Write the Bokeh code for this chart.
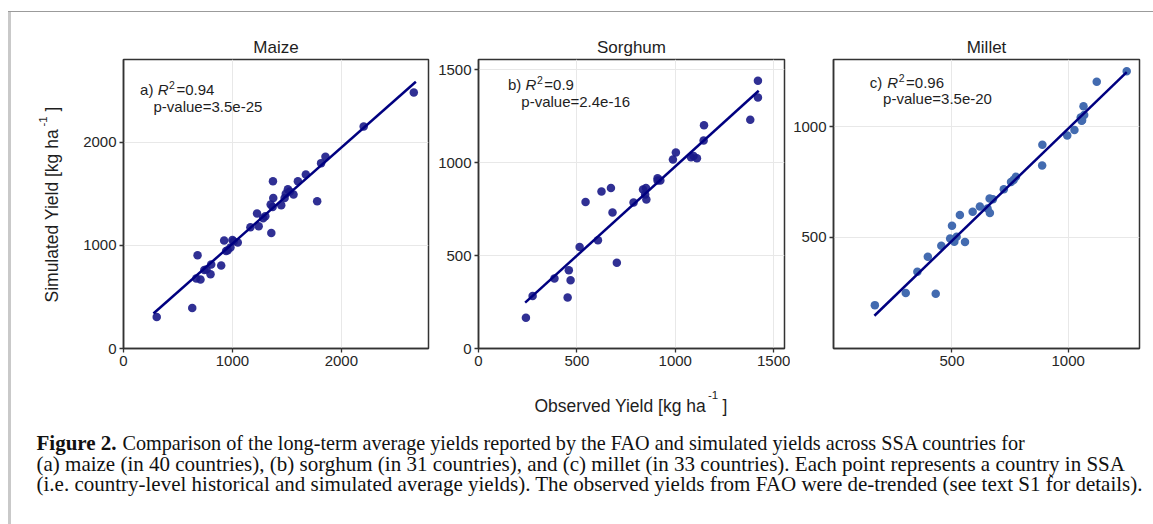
import math
from bokeh.plotting import figure
from bokeh.layouts import row, column
from bokeh.models import Range1d, FixedTicker, Label
from bokeh.embed import file_html
from bokeh.resources import INLINE

# ---------------- data ----------------
maize_obs = [305, 631, 680, 668, 707, 762, 805, 799, 897, 924, 957, 982, 1000, 1049,
             1165, 1241, 1226, 1302, 1357, 1351, 1369, 1375, 1372, 1448, 1479, 1509,
             1561, 1601, 1674, 1778, 1814, 1854, 2205, 2665, 1490, 1012, 742, 1282, 942, 1528]
maize_sim = [306, 393, 904, 678, 669, 765, 814, 720, 804, 1047, 953, 979, 1052, 1027,
             1175, 1185, 1308, 1282, 1120, 1395, 1372, 1459, 1621, 1389, 1459, 1544,
             1492, 1621, 1686, 1427, 1796, 1857, 2151, 2481, 1500, 1040, 760, 1262, 945, 1520]
maize_fit_x = [275, 2684]
maize_fit_y = [339, 2585]

sorghum_obs = [241, 275, 386, 459, 468, 453, 514, 544, 607, 625, 673, 681, 703, 788, 836,
               851, 847, 853, 910, 910, 924, 988, 1003, 1080, 1093, 1110, 1144, 1146, 1381, 1420, 1420]
sorghum_sim = [165, 283, 376, 421, 367, 274, 546, 788, 582, 845, 863, 732, 462, 786, 856,
               864, 829, 802, 904, 916, 904, 1017, 1054, 1029, 1036, 1024, 1119, 1201, 1231, 1351, 1441]
sorghum_fit_x = [237, 1424]
sorghum_fit_y = [247, 1387]

millet_obs = [168, 301, 430, 351, 396, 454, 500, 510, 520, 534, 556, 589, 662, 676, 663, 653,
              723, 754, 775, 888, 889, 996, 1027, 1058, 1069, 1066, 1054, 1123, 1252, 620, 765, 492, 1060]
millet_sim = [194, 249, 245, 345, 413, 462, 553, 480, 503, 601, 479, 616, 676, 672, 610, 631,
              718, 750, 774, 825, 919, 961, 985, 1027, 1053, 1093, 1042, 1203, 1251, 640, 760, 495, 1030]
millet_fit_x = [166, 1252]
millet_fit_y = [146, 1247]

titles = ["Maize", "Sorghum", "Millet"]
letters = ["a)", "b)", "c)"]
r2_text = ["=0.94", "=0.9", "=0.96"]
p_text = ["p-value=3.5e-25", "p-value=2.4e-16", "p-value=3.5e-20"]
maize_ticks = [0, 1000, 2000]
sorghum_ticks = [0, 500, 1000, 1500]
millet_ticks = [500, 1000]

y_label = "Simulated Yield [kg ha"
x_label = "Observed Yield [kg ha"
unit_sup = "-1"
unit_close = "]"

caption_bold = "Figure 2."
caption_lines = [
    "Comparison of the long-term average yields reported by the FAO and simulated yields across SSA countries for",
    "(a) maize (in 40 countries), (b) sorghum (in 31 countries), and (c) millet (in 33 countries). Each point represents a country in SSA",
    "(i.e. country-level historical and simulated average yields). The observed yields from FAO were de-trended (see text S1 for details).",
]

# ---------------- styling / layout constants ----------------
SANS = "Liberation Sans"
SERIF = "Liberation Serif"
TXT = "#1e1e1e"
FH = 289
MB_TOP = 59
MB_BOTTOM = 30
TOTAL_W = 1153
CAP_H = 146


def to_data(xr, yr, fw, dx, dy):
    """frame-pixel offset (from frame top-left) -> data coordinates"""
    x = xr[0] + dx / fw * (xr[1] - xr[0])
    y = yr[1] - dy / FH * (yr[1] - yr[0])
    return x, y


def make_panel(idx, obs, sim, fx, fy, xr, yr, ticks, color, alpha, fw, bl, br, ann_dx, ann_dy):
    p = figure(frame_width=fw, frame_height=FH, x_range=Range1d(*xr), y_range=Range1d(*yr),
               output_backend="svg", toolbar_location=None, title=titles[idx],
               min_border_left=bl, min_border_right=br, min_border_top=MB_TOP,
               min_border_bottom=MB_BOTTOM)
    p.border_fill_color = None
    p.background_fill_color = "white"
    p.outline_line_color = "#333333"
    p.outline_line_width = 1.5
    p.outline_line_alpha = 1.0
    p.title.align = "center"
    p.title.text_font = SANS
    p.title.text_font_size = "17px"
    p.title.text_font_style = "normal"
    p.title.text_color = TXT
    p.title.standoff = 6
    for ax in (p.xaxis[0], p.yaxis[0]):
        ax.ticker = FixedTicker(ticks=ticks)
        ax.major_tick_out = 4
        ax.major_tick_in = 0
        ax.minor_tick_out = 0
        ax.minor_tick_in = 0
        ax.axis_line_color = "#333333"
        ax.axis_line_width = 1.5
        ax.major_tick_line_color = "#333333"
        ax.major_tick_line_width = 1.3
        ax.major_label_text_font = SANS
        ax.major_label_text_font_size = "15px"
        ax.major_label_text_color = "#262626"
        ax.major_label_standoff = 3
    p.xgrid.ticker = FixedTicker(ticks=ticks)
    p.ygrid.ticker = FixedTicker(ticks=ticks)
    p.grid.grid_line_color = "#e8e8e8"
    p.grid.grid_line_width = 1

    p.scatter(obs, sim, size=8.5, fill_color=color, fill_alpha=alpha, line_color=None)
    p.line(fx, fy, line_color="#000080", line_width=2.5)

    def lab(dx, dy, text, size="15px", style="normal"):
        x, y = to_data(xr, yr, fw, dx, dy)
        p.add_layout(Label(x=x, y=y, text=text, text_font=SANS, text_font_size=size,
                           text_font_style=style, text_color=TXT, text_align="left",
                           text_baseline="middle"))

    lab(ann_dx, ann_dy, letters[idx])
    lab(ann_dx + 17.6, ann_dy, "R", style="italic")
    lab(ann_dx + 29.0, ann_dy - 4.5, "2", size="10.5px")
    lab(ann_dx + 36.4, ann_dy, r2_text[idx])
    lab(ann_dx + 13.4, ann_dy + 16.7, p_text[idx])
    return p


def strip(w, xr, yr, **kw):
    f = figure(x_range=Range1d(*xr), y_range=Range1d(*yr), output_backend="svg",
               toolbar_location=None, x_axis_type=None, y_axis_type=None, **kw)
    f.grid.visible = False
    f.outline_line_color = None
    f.border_fill_color = None
    f.background_fill_color = None
    return f


def put(f, x, y, text, font=SANS, size="17.5px", style="normal", angle=0.0, color=TXT):
    f.add_layout(Label(x=x, y=y, text=text, text_font=font, text_font_size=size,
                       text_font_style=style, text_color=color, text_align="left",
                       text_baseline="middle", angle=angle))


# left strip with the rotated y-axis title; its frame is aligned with the panels'
# frames (page y 59..348), so the y range is expressed in page pixels
YW = 75
ylab = strip(YW, (0, YW), (MB_TOP + FH, MB_TOP), frame_width=YW, frame_height=FH,
             min_border_left=0, min_border_right=0, min_border_top=MB_TOP,
             min_border_bottom=MB_BOTTOM)
put(ylab, 51.5, 302, y_label, angle=math.pi / 2)
put(ylab, 42.0, 126, unit_sup, size="11.5px", angle=math.pi / 2)
put(ylab, 51.5, 111, unit_close, angle=math.pi / 2)

p1 = make_panel(0, maize_obs, maize_sim, maize_fit_x, maize_fit_y, (0, 2800), (0, 2800),
                maize_ticks, "#1a1a88", 0.9, 305, 123 - YW, 5, 16.6, 30.0)
p2 = make_panel(1, sorghum_obs, sorghum_sim, sorghum_fit_x, sorghum_fit_y, (0, 1555), (0, 1555),
                sorghum_ticks, "#1a1a88", 0.9, 306, 45, 6, 29.4, 25.0)
p3 = make_panel(2, millet_obs, millet_sim, millet_fit_x, millet_fit_y, (-10, 1307), (-2, 1304),
                millet_ticks, "#436bb0", 1.0, 306, 42, 15, 36.2, 22.7)

# bottom strip: x-axis title + figure caption (coordinates relative to strip top)
cap = strip(TOTAL_W, (0, TOTAL_W), (CAP_H, 0), width=TOTAL_W, height=CAP_H, min_border=0)
put(cap, 534, 27.3, x_label)
put(cap, 707.5, 16.5, unit_sup, size="11.5px")
put(cap, 722, 27.3, unit_close)

put(cap, 36, 64, caption_bold, font=SERIF, size="21px", style="bold", color="#111111")
put(cap, 122, 64, caption_lines[0], font=SERIF, size="20.2px", color="#111111")
put(cap, 36, 85, caption_lines[1], font=SERIF, size="21px", color="#111111")
put(cap, 36, 105.5, caption_lines[2], font=SERIF, size="21px", color="#111111")

bg = ("linear-gradient(#9b9b9b,#9b9b9b) 8px 11px / 100% 1px no-repeat, "
      "linear-gradient(#c9c9c9,#c9c9c9) 8px 11px / 3px 100% no-repeat")
layout = column(row(ylab, p1, p2, p3), cap, styles={"background": bg})

open("out.html", "w").write(file_html(layout, INLINE))
